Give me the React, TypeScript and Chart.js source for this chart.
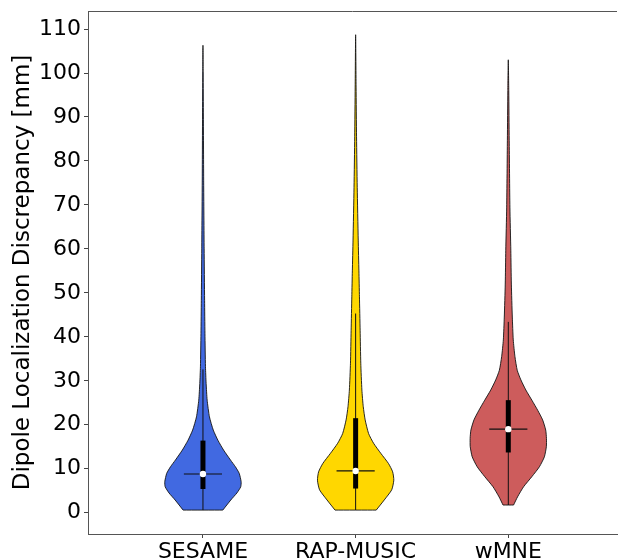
import React, { useEffect, useRef } from "react";
import { Chart, registerables } from "chart.js";

Chart.register(...registerables);

// ---- data ----
const categories = ["SESAME", "RAP-MUSIC", "wMNE"];
const fillColors = ["#4169E1", "#FFD700", "#CD5C5C"];
const yTicks = [0, 10, 20, 30, 40, 50, 60, 70, 80, 90, 100, 110];

// violin outlines: value (mm) and relative half-width (1 = widest)
const sesameY = [0.6, 2.9, 4.5, 5.9, 7.05, 8.95, 10.45, 12.0, 14.25, 16.5, 18.8, 21.8, 25.6, 29.4, 33.2, 40.8, 48.3, 60, 75, 90, 100, 106.3];
const sesameW = [0.52, 0.73, 0.89, 0.99, 1.0, 0.95, 0.85, 0.72, 0.54, 0.39, 0.27, 0.17, 0.11, 0.083, 0.066, 0.052, 0.043, 0.031, 0.019, 0.011, 0.005, 0];

const rapY = [0.6, 2.9, 5.2, 7.4, 9.3, 11.2, 13.5, 15.8, 18.0, 21.1, 24.1, 27.9, 34, 41.5, 49.1, 55, 62, 74, 85.5, 96.8, 108.7];
const rapW = [0.54, 0.75, 0.945, 1.0, 0.97, 0.86, 0.66, 0.47, 0.34, 0.25, 0.2, 0.164, 0.135, 0.118, 0.1, 0.086, 0.068, 0.042, 0.024, 0.012, 0];

const wmneY = [1.75, 3.6, 5.9, 8.2, 10.45, 12.7, 15.0, 16.9, 18.8, 21.1, 23.3, 25.6, 27.9, 30.2, 32.4, 35.5, 39.3, 44.5, 52, 59.7, 69.5, 84.7, 96, 103];
const wmneW = [0.138, 0.242, 0.4, 0.617, 0.815, 0.945, 0.997, 1.0, 0.98, 0.9, 0.77, 0.617, 0.46, 0.33, 0.234, 0.174, 0.13, 0.105, 0.08, 0.066, 0.042, 0.024, 0.012, 0];

// box statistics
const mins = [0.6, 0.6, 1.75];
const q1s = [5.4, 5.5, 13.7];
const medians = [8.8, 9.5, 19.0];
const q3s = [16.4, 21.5, 25.6];
const whiskerHighs = [32.6, 45.3, 43.4];

const violinYs = [sesameY, rapY, wmneY];
const violinWs = [sesameW, rapW, wmneW];

const VIOLIN_HALF = 0.25;
const MEDIAN_HALF = 0.125;
const FONT = "'DejaVu Sans', sans-serif";

function violinPolygon(center: number, ys: number[], ws: number[]) {
  const pts: { x: number; y: number }[] = [];
  const bl = { x: center - VIOLIN_HALF * ws[0], y: ys[0] };
  const br = { x: center + VIOLIN_HALF * ws[0], y: ys[0] };
  // duplicated corner points keep the flat bottom's corners sharp
  pts.push(bl, { ...bl });
  for (let i = 1; i < ys.length; i++) pts.push({ x: center - VIOLIN_HALF * ws[i], y: ys[i] });
  for (let i = ys.length - 2; i >= 1; i--) pts.push({ x: center + VIOLIN_HALF * ws[i], y: ys[i] });
  pts.push(br, { ...br }, { ...bl }, { ...bl });
  return pts;
}

const topSpine = {
  id: "topSpine",
  afterDraw(chart: any) {
    const { ctx, chartArea } = chart;
    ctx.save();
    ctx.strokeStyle = "#555";
    ctx.lineWidth = 1;
    ctx.beginPath();
    ctx.moveTo(chartArea.left, Math.round(chartArea.top) + 0.5);
    ctx.lineTo(chartArea.right, Math.round(chartArea.top) + 0.5);
    ctx.stroke();
    ctx.restore();
  },
};

export default function App() {
  const ref = useRef<HTMLCanvasElement | null>(null);

  useEffect(() => {
    if (!ref.current) return;
    const datasets: any[] = [];
    categories.forEach((_, i) => {
      const c = i + 1;
      datasets.push({
        data: violinPolygon(c, violinYs[i], violinWs[i]),
        backgroundColor: fillColors[i],
        borderColor: "rgba(20,20,20,0.9)",
        borderWidth: 1,
        fill: "shape",
        pointRadius: 0,
        tension: 0.2,
        order: 10,
      });
      datasets.push({
        data: [{ x: c, y: mins[i] }, { x: c, y: whiskerHighs[i] }],
        borderColor: "#111",
        borderWidth: 1,
        pointRadius: 0,
        fill: false,
        order: 5,
      });
      datasets.push({
        data: [{ x: c, y: q1s[i] }, { x: c, y: q3s[i] }],
        borderColor: "#000",
        borderWidth: 5,
        borderCapStyle: "butt",
        pointRadius: 0,
        fill: false,
        order: 4,
      });
      datasets.push({
        data: [{ x: c - MEDIAN_HALF, y: medians[i] }, { x: c + MEDIAN_HALF, y: medians[i] }],
        borderColor: "#111",
        borderWidth: 1.2,
        pointRadius: 0,
        fill: false,
        order: 3,
      });
    });
    datasets.push({
      data: medians.map((m, i) => ({ x: i + 1, y: m })),
      showLine: false,
      pointRadius: 3.2,
      pointBackgroundColor: "#fff",
      pointBorderWidth: 0,
      order: 0,
    });

    const chart = new Chart(ref.current, {
      type: "line",
      data: { datasets },
      plugins: [topSpine],
      options: {
        animation: false,
        responsive: false,
        events: [],
        layout: { padding: { top: 11, right: 0, left: 0, bottom: 0 } },
        plugins: { legend: { display: false }, tooltip: { enabled: false } },
        scales: {
          x: {
            type: "linear",
            min: 0.247,
            max: 3.712,
            afterBuildTicks: (scale: any) => {
              scale.ticks = categories.map((_, i) => ({ value: i + 1 }));
            },
            afterFit: (scale: any) => {
              scale.height = 26;
              scale.paddingLeft = 0;
              scale.paddingRight = 0;
            },
            ticks: {
              color: "#000",
              font: { family: FONT, size: 22 },
              padding: 1,
              maxRotation: 0,
              autoSkip: false,
              callback: (v: any) => categories[Math.round(v) - 1] ?? "",
            },
            grid: { drawOnChartArea: false, drawTicks: true, tickLength: 4, color: "#444" },
            border: { display: true, color: "#555", width: 1 },
          },
          y: {
            type: "linear",
            min: -4.84,
            max: 114.1,
            afterBuildTicks: (scale: any) => {
              scale.ticks = yTicks.map((v) => ({ value: v }));
            },
            afterFit: (scale: any) => {
              scale.width = 88;
              scale.paddingTop = 0;
              scale.paddingBottom = 0;
            },
            ticks: {
              color: "#000",
              font: { family: FONT, size: 22 },
              padding: 3,
              autoSkip: false,
            },
            grid: { drawOnChartArea: false, drawTicks: true, tickLength: 4, color: "#444" },
            border: { display: true, color: "#555", width: 1 },
            title: {
              display: true,
              text: "Dipole Localization Discrepancy [mm]",
              color: "#000",
              font: { family: FONT, size: 23 },
              padding: { top: 9, bottom: 0 },
            },
          },
        },
      },
    });
    return () => chart.destroy();
  }, []);

  return (
    <div style={{ position: "absolute", left: 0, top: 0, width: 621, height: 560, background: "#fff" }}>
      <canvas ref={ref} width={621} height={560} style={{ display: "block" }} />
    </div>
  );
}
